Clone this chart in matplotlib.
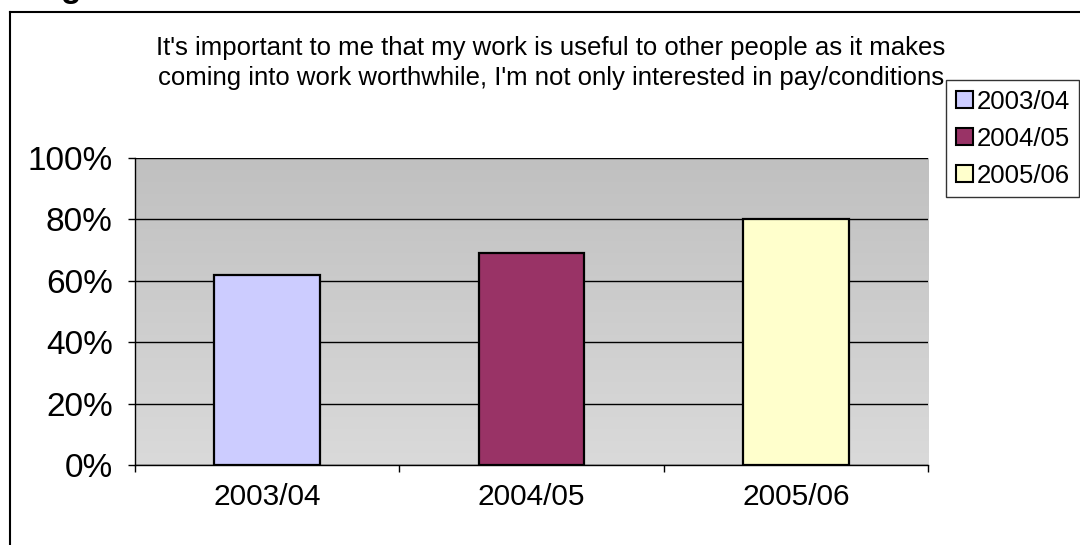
import numpy as np
import matplotlib.pyplot as plt
from matplotlib.patches import Patch
from matplotlib.lines import Line2D

plt.rcParams['font.family'] = ['Liberation Sans', 'DejaVu Sans']

categories = ["2003/04", "2004/05", "2005/06"]
values = [62, 69, 80]
colors = ["#ccccff", "#993366", "#ffffcc"]
yticks = [0, 20, 40, 60, 80, 100]
title = ("It's important to me that my work is useful to other people as it makes\n"
         "coming into work worthwhile, I'm not only interested in pay/conditions")

fig = plt.figure(figsize=(10.8, 5.45), dpi=100)
ax = fig.add_axes([0.125, 0.1468, 0.7343, 0.5633])

# gradient plot area, darker at top
grad = np.linspace(0, 1, 256).reshape(-1, 1)
ax.imshow(grad, cmap=plt.matplotlib.colors.LinearSegmentedColormap.from_list(
    "g", ["#dadada", "#c0c0c0"]), extent=[-0.5, 2.5, 0, 100],
    aspect="auto", origin="lower", zorder=0)

x = np.arange(len(categories))
ax.bar(x, values, width=0.4, color=colors, edgecolor="black", linewidth=1.6, zorder=2)

ax.set_xlim(-0.5, 2.5)
ax.set_ylim(0, 100)
ax.set_yticks(yticks)
ax.set_yticklabels([f"{v}%" for v in yticks], fontsize=24)
ax.set_xticks(x)
ax.set_xticklabels(categories, fontsize=21.5)
ax.set_xticks([-0.5, 0.5, 1.5, 2.5], minor=True)
ax.tick_params(axis="x", which="major", length=0, pad=13)
ax.tick_params(axis="x", which="minor", length=5, width=1, direction="out")
ax.tick_params(axis="y", length=5, width=1, direction="out", pad=11)
ax.yaxis.grid(True, color="black", linewidth=1)
ax.set_axisbelow(True)
for s in ["top", "right"]:
    ax.spines[s].set_visible(False)
for s in ["left", "bottom"]:
    ax.spines[s].set_linewidth(1)

fig.text(0.51, 0.885, title, ha="center", va="center", fontsize=18.5, linespacing=1.32)

handles = [Patch(facecolor=c, edgecolor="black", linewidth=1.5) for c in colors]
leg = fig.legend(handles, categories, loc="upper left", bbox_to_anchor=(0.876, 0.853),
                 fontsize=18.5, frameon=True, fancybox=False, handlelength=0.65,
                 handleheight=0.65, handletextpad=0.15, borderpad=0.38, labelspacing=0.5,
                 borderaxespad=0)
leg.get_frame().set_edgecolor("black")
leg.get_frame().set_linewidth(1)

# outer chart frame (cropped)
fig.add_artist(Line2D([10 / 1080, 10 / 1080], [0, 1 - 12 / 545], color="black", linewidth=1.5,
                      transform=fig.transFigure))
fig.add_artist(Line2D([10 / 1080, 1], [1 - 12 / 545, 1 - 12 / 545], color="black", linewidth=1.5,
                      transform=fig.transFigure))
fig.text(0.056, 1 + 3 / 545, "g", fontsize=24, fontweight="bold", va="baseline")

plt.savefig("out.png", dpi=100)
